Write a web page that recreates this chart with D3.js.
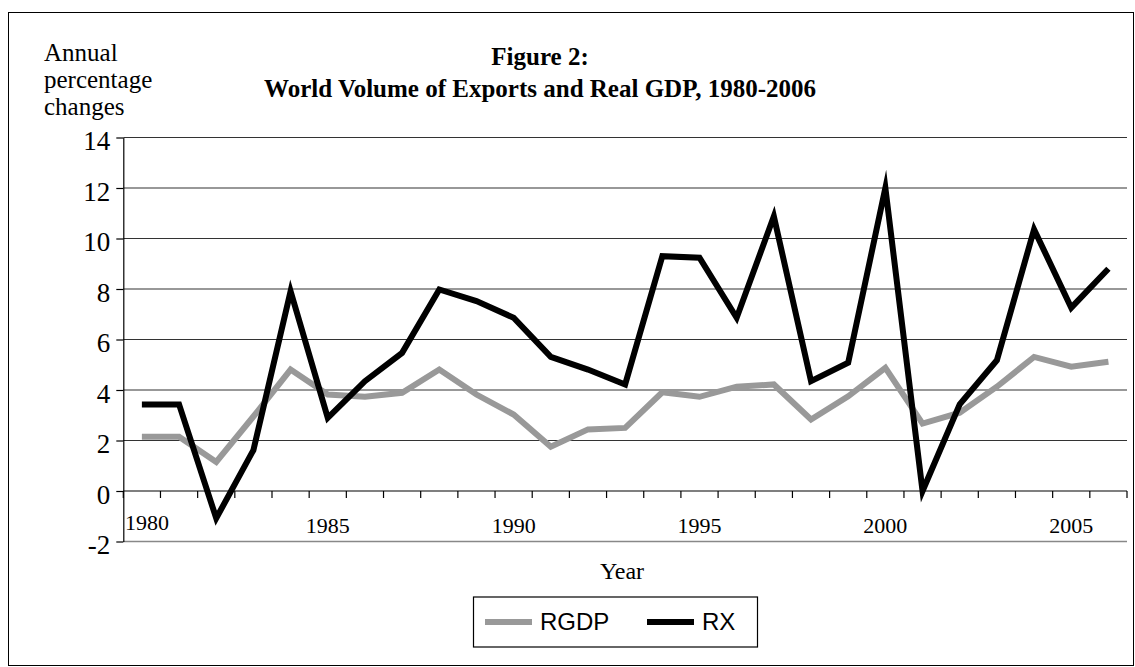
<!DOCTYPE html>
<html>
<head>
<meta charset="utf-8">
<script src="https://cdn.jsdelivr.net/npm/d3@7/dist/d3.min.js"></script>
<style>
  html, body { margin: 0; padding: 0; background: #fff; }
  svg { display: block; }
</style>
</head>
<body>
<svg width="1135" height="667"></svg>
<script>
// data
var years = [1980, 1981, 1982, 1983, 1984, 1985, 1986, 1987, 1988, 1989, 1990, 1991, 1992, 1993,
             1994, 1995, 1996, 1997, 1998, 1999, 2000, 2001, 2002, 2003, 2004, 2005, 2006];
var rgdp = [2.15, 2.15, 1.15, 2.95, 4.81, 3.82, 3.73, 3.89, 4.81, 3.82, 3.03, 1.75, 2.44, 2.50,
            3.91, 3.73, 4.13, 4.22, 2.83, 3.75, 4.88, 2.67, 3.10, 4.13, 5.31, 4.92, 5.12];
var rx = [3.43, 3.43, -1.08, 1.62, 7.91, 2.90, 4.35, 5.47, 7.98, 7.52, 6.86, 5.31, 4.81, 4.22,
          9.30, 9.24, 6.86, 10.88, 4.35, 5.08, 12.0, 0.0, 3.43, 5.18, 10.36, 7.26, 8.80];
var yTicks = [-2, 0, 2, 4, 6, 8, 10, 12, 14];
var xLabels = [1980, 1985, 1990, 1995, 2000, 2005];
var seriesNames = ["RGDP", "RX"];
var seriesColors = ["#999999", "#000000"];

var svg = d3.select("svg");
var serif = "'Liberation Serif', 'Times New Roman', serif";
var sans = "'Liberation Sans', Arial, sans-serif";

var pl = 123.3, pr = 1127, pt = 137.5, pb = 541.5;

// outer frame
svg.append("rect")
    .attr("x", 8.5).attr("y", 12.5)
    .attr("width", 1125).attr("height", 653)
    .attr("fill", "none").attr("stroke", "#000").attr("stroke-width", 1);

var x = d3.scaleBand()
    .domain(years)
    .range([pl, pr]);

var y = d3.scaleLinear()
    .domain([-2, 14])
    .range([pb, pt]);

// gridlines
svg.append("g").selectAll("line")
    .data(yTicks.filter(function(d) { return d > 0; }))
    .enter().append("line")
    .attr("x1", pl).attr("x2", pr)
    .attr("y1", function(d) { return y(d); })
    .attr("y2", function(d) { return y(d); })
    .attr("stroke", "#333").attr("stroke-width", 1.2);

// bottom edge of plot (-2)
svg.append("line")
    .attr("x1", pl).attr("x2", pr)
    .attr("y1", y(-2)).attr("y2", y(-2))
    .attr("stroke", "#888").attr("stroke-width", 1.5);

// y axis
var yAxis = svg.append("g")
    .attr("transform", "translate(" + pl + ",0)")
    .call(d3.axisLeft(y).tickValues(yTicks).tickSize(7).tickSizeOuter(0).tickPadding(6)
        .tickFormat(function(d) { return String(d); }));
yAxis.select(".domain").attr("stroke", "#000").attr("stroke-width", 1.2);
yAxis.selectAll(".tick line").attr("stroke", "#000").attr("stroke-width", 1.2);
yAxis.selectAll("text")
    .attr("font-family", serif).attr("font-size", 27).attr("fill", "#000")
    .attr("dy", "0.45em");

// x axis at zero, ticks between categories
svg.append("line")
    .attr("x1", pl).attr("x2", pr)
    .attr("y1", y(0)).attr("y2", y(0))
    .attr("stroke", "#000").attr("stroke-width", 1.2);

var bounds = years.map(function(d) { return x(d); }).concat([pr]);
svg.append("g").selectAll("line")
    .data(bounds)
    .enter().append("line")
    .attr("x1", function(d) { return d; }).attr("x2", function(d) { return d; })
    .attr("y1", y(0)).attr("y2", y(0) + 7)
    .attr("stroke", "#000").attr("stroke-width", 1.2);

svg.append("g").selectAll("text")
    .data(xLabels)
    .enter().append("text")
    .attr("x", function(d) { return x(d) + x.bandwidth() / 2 + (d === 1980 ? 5 : 0); })
    .attr("y", function(d) { return d === 1980 ? 530 : 533; })
    .attr("text-anchor", "middle")
    .attr("font-family", serif).attr("font-size", 22)
    .text(function(d) { return d; });

// lines
var line = d3.line()
    .x(function(d, i) { return x(years[i]) + x.bandwidth() / 2; })
    .y(function(d) { return y(d); });

[rgdp, rx].forEach(function(s, k) {
    svg.append("path")
        .datum(s)
        .attr("d", line)
        .attr("fill", "none")
        .attr("stroke", seriesColors[k])
        .attr("stroke-width", 6)
        .attr("stroke-linejoin", "miter")
        .attr("stroke-miterlimit", 10);
});

// titles
svg.append("text")
    .attr("x", 540).attr("y", 65)
    .attr("text-anchor", "middle")
    .attr("font-family", serif).attr("font-size", 25).attr("font-weight", "bold")
    .text("Figure 2:");
svg.append("text")
    .attr("x", 540).attr("y", 97)
    .attr("text-anchor", "middle")
    .attr("font-family", serif).attr("font-size", 25).attr("font-weight", "bold")
    .text("World Volume of Exports and Real GDP, 1980-2006");

var yTitle = ["Annual", "percentage", "changes"];
svg.append("g").selectAll("text")
    .data(yTitle)
    .enter().append("text")
    .attr("x", 44)
    .attr("y", function(d, i) { return 61 + i * 27; })
    .attr("font-family", serif).attr("font-size", 25)
    .text(function(d) { return d; });

svg.append("text")
    .attr("x", 622).attr("y", 579)
    .attr("text-anchor", "middle")
    .attr("font-family", serif).attr("font-size", 24)
    .text("Year");

// legend
var lg = svg.append("g");
lg.append("rect")
    .attr("x", 473.5).attr("y", 597)
    .attr("width", 284).attr("height", 50)
    .attr("fill", "#fff").attr("stroke", "#000").attr("stroke-width", 1.2);
var legX = [485, 647];
seriesNames.forEach(function(n, k) {
    lg.append("line")
        .attr("x1", legX[k]).attr("x2", legX[k] + 47)
        .attr("y1", 622).attr("y2", 622)
        .attr("stroke", seriesColors[k]).attr("stroke-width", 6);
    lg.append("text")
        .attr("x", legX[k] + 55).attr("y", 630)
        .attr("font-family", sans).attr("font-size", 24)
        .text(n);
});
</script>
</body>
</html>
